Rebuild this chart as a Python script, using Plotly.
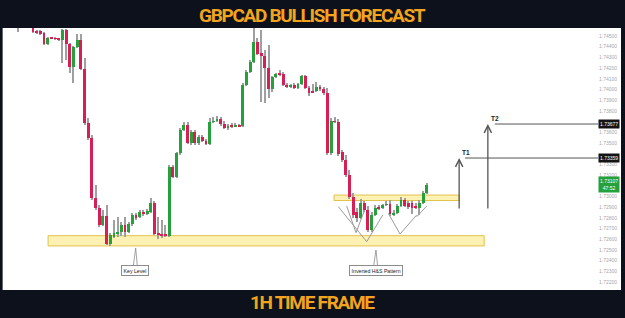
import plotly.graph_objects as go

# ---------------- data ----------------
bars = list(range(-4, 108))  # hourly bar number

open_ = [
    1.74631, 1.74668, 1.74631, 1.74650,
    1.74612, 1.74537, 1.74547, 1.74528, 1.74425, 1.74481, 1.74477, 1.74472, 1.74463, 1.74556,
    1.74425, 1.74210, 1.74397, 1.74463, 1.74191, 1.73687, 1.73546, 1.72985, 1.72892, 1.72733,
    1.72817, 1.72555, 1.72621, 1.72658, 1.72667, 1.72733, 1.72667, 1.72742, 1.72826, 1.72808,
    1.72854, 1.72836, 1.72854, 1.72939, 1.72649, 1.72644, 1.72649, 1.72630, 1.73275, 1.73182,
    1.73406, 1.73621, 1.73668, 1.73500, 1.73602, 1.73500, 1.73556, 1.73518, 1.73490, 1.73696,
    1.73705, 1.73724, 1.73677, 1.73640, 1.73658, 1.73658, 1.73668, 1.73658, 1.74042, 1.74163,
    1.74257, 1.74444, 1.74341, 1.74313, 1.74201, 1.74005, 1.74117, 1.74145, 1.74145, 1.74042,
    1.74032, 1.74042, 1.74014, 1.74051, 1.74126, 1.74014, 1.73986, 1.73986, 1.74023, 1.74004,
    1.73967, 1.73406, 1.73705, 1.73696, 1.73415, 1.73341, 1.73200, 1.72995, 1.72854, 1.72798,
    1.72939, 1.72873, 1.72686, 1.72826, 1.72892, 1.72892, 1.72920, 1.72929, 1.72826, 1.72845,
    1.72910, 1.72967, 1.72939, 1.72939, 1.72901, 1.72892, 1.72939, 1.73032,
]
high = [
    1.74696, 1.74687, 1.74678, 1.74668,
    1.74631, 1.74556, 1.74556, 1.74537, 1.74491, 1.74491, 1.74491, 1.74481, 1.74565, 1.74565,
    1.74435, 1.74406, 1.74519, 1.74519, 1.74294, 1.73733, 1.73574, 1.73107, 1.72920, 1.72873,
    1.72920, 1.72658, 1.72780, 1.72808, 1.72761, 1.72808, 1.72761, 1.72845, 1.72845, 1.72873,
    1.72873, 1.72882, 1.72985, 1.72957, 1.72808, 1.72780, 1.72733, 1.73294, 1.73294, 1.73415,
    1.73640, 1.73696, 1.73696, 1.73621, 1.73621, 1.73574, 1.73574, 1.73537, 1.73733, 1.73743,
    1.73752, 1.73743, 1.73705, 1.73677, 1.73687, 1.73687, 1.73677, 1.74061, 1.74182, 1.74276,
    1.74584, 1.74481, 1.74556, 1.74369, 1.74416, 1.74126, 1.74154, 1.74182, 1.74163, 1.74061,
    1.74051, 1.74061, 1.74061, 1.74135, 1.74135, 1.74032, 1.74051, 1.74070, 1.74042, 1.74023,
    1.74014, 1.73733, 1.73743, 1.73724, 1.73434, 1.73387, 1.73247, 1.73032, 1.72892, 1.72976,
    1.72957, 1.72910, 1.72854, 1.72920, 1.72920, 1.72929, 1.72957, 1.72967, 1.72873, 1.72929,
    1.72995, 1.72985, 1.72957, 1.72957, 1.72939, 1.72967, 1.73051, 1.73126,
]
low = [
    1.74537, 1.74603, 1.74594, 1.74579,
    1.74528, 1.74519, 1.74509, 1.74416, 1.74416, 1.74472, 1.74463, 1.74453, 1.74248, 1.74276,
    1.74154, 1.74061, 1.74388, 1.74182, 1.73668, 1.73528, 1.72967, 1.72873, 1.72714, 1.72724,
    1.72546, 1.72537, 1.72611, 1.72621, 1.72630, 1.72621, 1.72658, 1.72724, 1.72780, 1.72798,
    1.72817, 1.72826, 1.72845, 1.72639, 1.72602, 1.72611, 1.72621, 1.72621, 1.73172, 1.73172,
    1.73387, 1.73612, 1.73490, 1.73481, 1.73481, 1.73481, 1.73509, 1.73481, 1.73481, 1.73687,
    1.73696, 1.73658, 1.73631, 1.73621, 1.73640, 1.73649, 1.73649, 1.73649, 1.74032, 1.74154,
    1.74248, 1.74322, 1.73883, 1.73874, 1.73920, 1.73976, 1.74107, 1.74126, 1.74032, 1.74014,
    1.74014, 1.74004, 1.74004, 1.74042, 1.74004, 1.73939, 1.73967, 1.73976, 1.73986, 1.73948,
    1.73387, 1.73387, 1.73687, 1.73378, 1.73322, 1.73182, 1.72976, 1.72798, 1.72761, 1.72789,
    1.72854, 1.72667, 1.72667, 1.72817, 1.72873, 1.72882, 1.72910, 1.72817, 1.72817, 1.72836,
    1.72901, 1.72901, 1.72882, 1.72836, 1.72882, 1.72826, 1.72929, 1.73023,
]
close = [
    1.74668, 1.74631, 1.74650, 1.74612,
    1.74537, 1.74533, 1.74519, 1.74425, 1.74481, 1.74477, 1.74472, 1.74463, 1.74556, 1.74425,
    1.74210, 1.74397, 1.74463, 1.74191, 1.73687, 1.73546, 1.72985, 1.72892, 1.72733, 1.72817,
    1.72555, 1.72639, 1.72658, 1.72667, 1.72733, 1.72667, 1.72742, 1.72826, 1.72798, 1.72854,
    1.72836, 1.72864, 1.72939, 1.72649, 1.72644, 1.72639, 1.72630, 1.73275, 1.73182, 1.73406,
    1.73621, 1.73668, 1.73500, 1.73602, 1.73500, 1.73556, 1.73518, 1.73490, 1.73696, 1.73705,
    1.73724, 1.73677, 1.73640, 1.73658, 1.73654, 1.73668, 1.73658, 1.74042, 1.74163, 1.74257,
    1.74444, 1.74332, 1.74313, 1.74201, 1.74005, 1.74117, 1.74145, 1.74140, 1.74042, 1.74023,
    1.74037, 1.74014, 1.74051, 1.74126, 1.74014, 1.73967, 1.73976, 1.74023, 1.74005, 1.73967,
    1.73406, 1.73705, 1.73696, 1.73397, 1.73341, 1.73200, 1.72995, 1.72826, 1.72798, 1.72939,
    1.72873, 1.72686, 1.72826, 1.72892, 1.72887, 1.72920, 1.72929, 1.72836, 1.72845, 1.72910,
    1.72967, 1.72910, 1.72901, 1.72892, 1.72897, 1.72939, 1.73032, 1.73107,
]
assert len(open_) == len(high) == len(low) == len(close) == len(bars)

title_top = "GBPCAD BULLISH FORECAST"
title_bottom = "1H TIME FRAME"

# price scale tick values
tick_prices = [round(1.722 + 0.001 * k, 3) for k in range(24)]

# drawings (x in bar numbers, y in price)
key_zone = dict(x0=4.1, x1=122.6, y0=1.72537, y1=1.72633)
neck_zone = dict(x0=81.8, x1=115.8, y0=1.72962, y1=1.73013)
arrow_base = 1.72873
targets = [  # label, arrow bar, line start bar, target price
    ("T1", 115.8, 117.4, 1.73359),
    ("T2", 123.6, 125.5, 1.73677),
]
hs_lines = [
    [(82.96, 1.72904), (90.68, 1.72577), (95.03, 1.72826)],
    [(85.24, 1.72910), (87.77, 1.72661), (89.95, 1.72857)],
    [(96.55, 1.72842), (99.73, 1.72649), (104.27, 1.72826)],
    [(104.27, 1.72810), (106.98, 1.72910)],
]
callouts = [  # text, bar, price of box, tip price
    ("Key Level", 27.8, 1.72307, 1.72518),
    ("Inverted H&S Pattern", 93.1, 1.72307, 1.72499),
]
countdown = "47:52"

x_range = [-7.61, 153.53]
y_range = [1.721345, 1.745748]

# ---------------- styles ----------------
BG = "#0c111b"
ORANGE = "#f3a41e"
UP = "#25a03a"
DOWN = "#d81e55"
WICK = "#a0a0a0"
ZONE_FILL = "rgba(252,238,160,0.80)"
ZONE_LINE = "#e3c24c"
DRAW = "#555555"

body_base = [min(o, c) for o, c in zip(open_, close)]
body_h = [max(abs(c - o), 0.00008) for o, c in zip(open_, close)]
body_col = [UP if c >= o else DOWN for o, c in zip(open_, close)]
wick_h = [h - l for h, l in zip(high, low)]

# hide scale ticks hidden behind the price labels (as the charting app does)
label_prices = [(p, 0.00058) for _, _, _, p in targets] + [(close[-1], 0.0009)]
shown_ticks = [t for t in tick_prices if all(abs(t - p) >= d for p, d in label_prices)]

fig = go.Figure()
fig.add_trace(go.Bar(x=bars, y=wick_h, base=low, width=0.28,
                     marker=dict(color=WICK, line=dict(width=0)), hoverinfo="skip"))
fig.add_trace(go.Bar(x=bars, y=body_h, base=body_base, width=0.78,
                     marker=dict(color=body_col, line=dict(width=0)), hoverinfo="skip"))

for pts in hs_lines:
    fig.add_trace(go.Scatter(x=[p[0] for p in pts], y=[p[1] for p in pts], mode="lines",
                             line=dict(color="#9a9a9a", width=1), hoverinfo="skip"))

shapes = [
    dict(type="rect", xref="paper", yref="paper", x0=-0.004, x1=1.0388, y0=-0.004, y1=1.0,
         fillcolor="white", line=dict(width=0), layer="below"),
]
for z in (key_zone, neck_zone):
    shapes.append(dict(type="rect", xref="x", yref="y", **z, fillcolor=ZONE_FILL,
                       line=dict(color=ZONE_LINE, width=1), layer="below"))

annotations = []
for name, xa, xl, price in targets:
    shapes.append(dict(type="line", xref="x", yref="y", x0=xl, x1=x_range[1], y0=price, y1=price,
                       line=dict(color=DRAW, width=1)))
    annotations.append(dict(x=xa, y=price, xref="x", yref="y", ax=xa, ay=arrow_base,
                            axref="x", ayref="y", text="", showarrow=True, arrowhead=5,
                            arrowsize=1.1, arrowwidth=1.3, arrowcolor=DRAW))
    annotations.append(dict(x=xa + 0.3, y=price, xref="x", yref="y", text="<b>%s</b>" % name,
                            xanchor="left", yanchor="bottom", showarrow=False,
                            font=dict(size=6.5, color="#222", family="Arial")))
    annotations.append(dict(x=1.0, y=price, xref="paper", yref="y", text="%.5f" % price,
                            xanchor="left", yanchor="middle", showarrow=False, bgcolor="#141414",
                            borderpad=1, font=dict(size=5, color="white", family="Arial")))

annotations.append(dict(x=1.0, y=close[-1], xref="paper", yref="y",
                        text="%.5f<br>%s" % (close[-1], countdown),
                        xanchor="left", yanchor="middle", showarrow=False, bgcolor=UP,
                        borderpad=1, font=dict(size=5, color="white", family="Arial")))

for text, xb, yb, ytip in callouts:
    annotations.append(dict(x=xb, y=yb, xref="x", yref="y", text=text, showarrow=False,
                            bgcolor="white", bordercolor="#8c8c8c", borderwidth=1, borderpad=1.6,
                            font=dict(size=5.2, color="#222", family="Arial")))
    base_y = yb + 0.00040
    shapes.append(dict(type="path", xref="x", yref="y",
                       path="M %f,%f L %f,%f L %f,%f" % (xb - 0.55, base_y, xb + 0.1, ytip, xb + 0.55, base_y),
                       line=dict(color="#8c8c8c", width=0.8)))

TITLE_FONT = "Roboto, Liberation Sans, Arial, sans-serif"
TITLE_STYLE = '<span style="letter-spacing:-1.3px"><b>%s</b></span>'
annotations.append(dict(x=0.5185, y=1.0498, xref="paper", yref="paper", text=TITLE_STYLE % title_top,
                        showarrow=False, xanchor="center", yanchor="middle",
                        font=dict(size=19, color=ORANGE, family=TITLE_FONT)))
annotations.append(dict(x=0.5185, y=-0.0536, xref="paper", yref="paper", text=TITLE_STYLE % title_bottom,
                        showarrow=False, xanchor="center", yanchor="middle",
                        font=dict(size=19, color=ORANGE, family=TITLE_FONT)))

fig.update_layout(
    width=625, height=318,
    margin=dict(l=5, r=27, t=28, b=29),
    paper_bgcolor=BG, plot_bgcolor="white",
    barmode="overlay", bargap=0, showlegend=False,
    shapes=shapes, annotations=annotations,
    xaxis=dict(range=x_range, visible=False, fixedrange=True),
    yaxis=dict(range=y_range, side="right", showgrid=False, zeroline=False, showline=False,
               tickmode="array", tickvals=shown_ticks, ticktext=["%.5f" % t for t in shown_ticks],
               ticks="", tickfont=dict(size=5, color="#a8a8a8", family="Arial"), fixedrange=True),
)

fig.write_html("out.html")
